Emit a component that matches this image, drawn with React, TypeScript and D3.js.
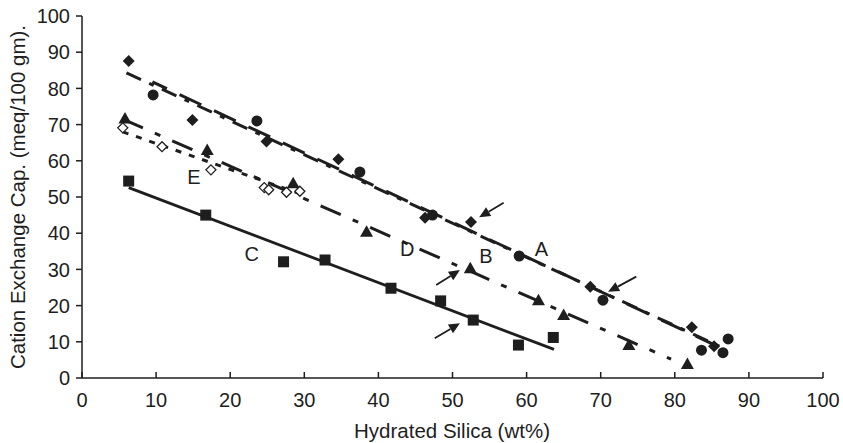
import React from "react";
import * as d3 from "d3";

// ---- data ----
const xTicks = [0, 10, 20, 30, 40, 50, 60, 70, 80, 90, 100];
const yTicks = [0, 10, 20, 30, 40, 50, 60, 70, 80, 90, 100];

const seriesDiamond: [number, number][] = [
  [6.3, 87.6], [14.9, 71.3], [24.9, 65.3], [34.6, 60.4], [46.3, 44.3],
  [52.5, 43.1], [68.6, 25.2], [82.3, 14.0], [85.3, 8.8],
];
const seriesCircle: [number, number][] = [
  [9.6, 78.2], [23.6, 71.0], [37.5, 56.9], [47.3, 45.0], [59.0, 33.7],
  [70.3, 21.5], [83.6, 7.7], [86.5, 7.0], [87.2, 10.8],
];
const seriesTriangle: [number, number][] = [
  [5.8, 71.7], [16.9, 63.0], [28.5, 53.8], [38.4, 40.4], [52.4, 30.3],
  [61.6, 21.5], [65.0, 17.4], [73.8, 9.1], [81.7, 3.9],
];
const seriesOpenDiamond: [number, number][] = [
  [5.5, 69.1], [10.8, 63.9], [17.4, 57.5], [24.6, 52.6], [25.2, 52.0],
  [27.6, 51.3], [29.4, 51.6],
];
const seriesSquare: [number, number][] = [
  [6.3, 54.4], [16.7, 45.0], [27.2, 32.1], [32.8, 32.6], [41.7, 24.8],
  [48.4, 21.3], [52.8, 16.0], [58.9, 9.1], [63.6, 11.2],
];

// trend lines (end points)
const lineDiamond: [number, number][] = [[6.0, 84.3], [86.0, 8.8]];
const lineCircle: [number, number][] = [[9.5, 81.8], [87.3, 7.3]];
const lineTriangle: [number, number][] = [[5.5, 71.5], [79.5, 5.2]];
const lineOpen: [number, number][] = [[5.5, 68.0], [30.0, 50.5]];
const lineSquare: [number, number][] = [[6.3, 52.6], [63.7, 7.9]];

const labels: { t: string; x: number; y: number }[] = [
  { t: "A", x: 62.0, y: 35.8 },
  { t: "B", x: 54.5, y: 33.8 },
  { t: "D", x: 43.9, y: 35.6 },
  { t: "E", x: 15.1, y: 55.7 },
  { t: "C", x: 22.9, y: 34.2 },
];

// arrows: [tailX, tailY, tipX, tipY] in data units
const arrows: [number, number, number, number][] = [
  [56.9, 48.4, 53.6, 44.4],
  [47.8, 25.7, 51.0, 29.8],
  [47.6, 11.0, 51.0, 15.1],
  [74.8, 28.0, 71.0, 23.8],
];

const W = 843;
const H = 443;
const INK = "#1e1e1e";
const FONT = "'Liberation Sans', Arial, sans-serif";

export default function App() {
  const x = d3.scaleLinear().domain([0, 100]).range([82, 823]);
  const y = d3.scaleLinear().domain([0, 100]).range([378, 16]);
  const line = d3
    .line<[number, number]>()
    .x((d) => x(d[0]))
    .y((d) => y(d[1]));

  const diamond = (s: number) => `M0,${-s}L${s},0L0,${s}L${-s},0Z`;
  const tri = `M0,-6.5L6.5,5L-6.5,5Z`;

  const arrowPaths = arrows.map(([tx, ty, hx, hy]) => {
    const x1 = x(tx), y1 = y(ty), x2 = x(hx), y2 = y(hy);
    const ang = Math.atan2(y2 - y1, x2 - x1);
    const L = 11, Wd = 5;
    const bx = x2 - L * Math.cos(ang), by = y2 - L * Math.sin(ang);
    const px = -Math.sin(ang) * Wd, py = Math.cos(ang) * Wd;
    return {
      shaft: `M${x1},${y1}L${bx},${by}`,
      head: `M${x2},${y2}L${bx + px},${by + py}L${bx - px},${by - py}Z`,
    };
  });

  return (
    <svg
      width={W}
      height={H}
      style={{ position: "absolute", left: 0, top: 0, background: "#fff" }}
      fontFamily={FONT}
    >
      {/* trend lines */}
      <path d={line(lineSquare)!} fill="none" stroke={INK} strokeWidth={2.8} />
      <path d={line(lineDiamond)!} fill="none" stroke={INK} strokeWidth={3} strokeDasharray="16,9,5,9" />
      <path d={line(lineCircle)!} fill="none" stroke={INK} strokeWidth={3} strokeDasharray="24,14" strokeDashoffset={8} />
      <path d={line(lineTriangle)!} fill="none" stroke={INK} strokeWidth={3} strokeDasharray="22,13,6,13" />
      <path d={line(lineOpen)!} fill="none" stroke={INK} strokeWidth={3} strokeDasharray="6,8" />

      {/* markers */}
      {seriesSquare.map((d, i) => (
        <rect key={"s" + i} x={x(d[0]) - 5.5} y={y(d[1]) - 5.5} width={11} height={11} fill={INK} />
      ))}
      {seriesDiamond.map((d, i) => (
        <path key={"d" + i} d={diamond(6)} transform={`translate(${x(d[0])},${y(d[1])})`} fill={INK} />
      ))}
      {seriesCircle.map((d, i) => (
        <circle key={"c" + i} cx={x(d[0])} cy={y(d[1])} r={5.5} fill={INK} />
      ))}
      {seriesTriangle.map((d, i) => (
        <path key={"t" + i} d={tri} transform={`translate(${x(d[0])},${y(d[1])})`} fill={INK} />
      ))}
      {seriesOpenDiamond.map((d, i) => (
        <path key={"o" + i} d={diamond(5)} transform={`translate(${x(d[0])},${y(d[1])})`} fill="#fff" stroke={INK} strokeWidth={1.3} />
      ))}

      {/* arrows */}
      {arrowPaths.map((a, i) => (
        <g key={"a" + i}>
          <path d={a.shaft} stroke={INK} strokeWidth={1.8} fill="none" />
          <path d={a.head} fill={INK} />
        </g>
      ))}

      {/* labels */}
      {labels.map((l) => (
        <text key={l.t} x={x(l.x)} y={y(l.y)} dy="0.36em" textAnchor="middle" fontSize={20} fill={INK}>
          {l.t}
        </text>
      ))}

      {/* axes */}
      <line x1={x(0)} x2={x(100)} y1={y(0)} y2={y(0)} stroke={INK} strokeWidth={1.5} />
      <line x1={x(0)} x2={x(0)} y1={y(0)} y2={y(100)} stroke={INK} strokeWidth={1.5} />
      {xTicks.map((t) => (
        <g key={"xt" + t}>
          <line x1={x(t)} x2={x(t)} y1={y(0)} y2={y(0) - 6} stroke={INK} strokeWidth={1.5} />
          <text x={x(t)} y={y(0) + 22} dy="0.36em" textAnchor="middle" fontSize={20} fill={INK}>
            {t}
          </text>
        </g>
      ))}
      {yTicks.map((t) => (
        <g key={"yt" + t}>
          <line x1={x(0) - 6} x2={x(0)} y1={y(t)} y2={y(t)} stroke={INK} strokeWidth={1.5} />
          <text x={x(0) - 12} y={y(t)} dy="0.36em" textAnchor="end" fontSize={20} fill={INK}>
            {t}
          </text>
        </g>
      ))}
      <text x={452} y={431} dy="0.36em" textAnchor="middle" fontSize={20.5} fill={INK}>
        Hydrated Silica (wt%)
      </text>
      <text
        transform={`translate(18,${(y(0) + y(100)) / 2}) rotate(-90)`}
        dy="0.36em"
        textAnchor="middle"
        fontSize={20.5}
        fill={INK}
      >
        Cation Exchange Cap. (meq/100 gm).
      </text>
    </svg>
  );
}
